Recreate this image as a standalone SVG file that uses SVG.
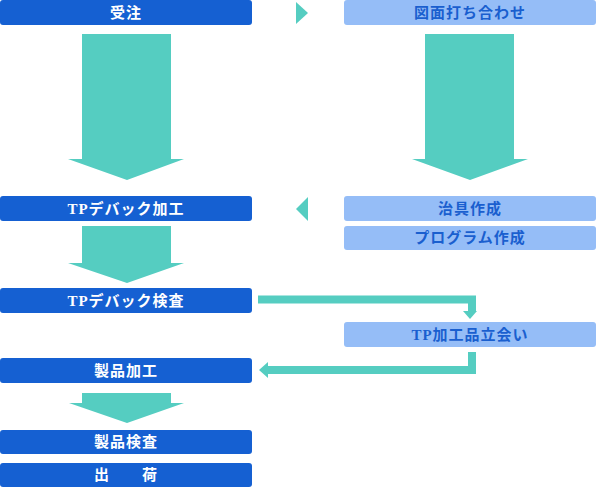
<svg xmlns="http://www.w3.org/2000/svg" width="596" height="487" viewBox="0 0 596 487">
<style>
.dk{fill:#1560d2}
.lt{fill:#95bdf7}
.ar{fill:#55cdc1}
.ln{fill:none;stroke:#55cdc1;stroke-width:8}
text{font-family:"Liberation Serif","Noto Sans CJK JP",serif;font-size:15px;font-weight:bold;letter-spacing:1px;text-anchor:middle;dominant-baseline:central}
.tw{fill:#ffffff}
.tb{fill:#1a5fcf}
</style>
<rect width="596" height="487" fill="#ffffff"/>
<g id="n-juchu"><rect class="dk" x="0" y="0" width="252" height="25" rx="3"/><text class="tw" x="126" y="12.5">受注</text></g>
<g id="n-zumen"><rect class="lt" x="344" y="0" width="252" height="25" rx="3"/><text class="tb" x="470" y="12.5">図面打ち合わせ</text></g>
<g id="n-tpkako"><rect class="dk" x="0" y="196" width="252" height="25" rx="3"/><text class="tw" x="126" y="208.5">TPデバック加工</text></g>
<g id="n-jigu"><rect class="lt" x="344" y="196" width="252" height="25" rx="3"/><text class="tb" x="470" y="208.5">治具作成</text></g>
<g id="n-program"><rect class="lt" x="344" y="226" width="252" height="24" rx="3"/><text class="tb" x="470" y="238">プログラム作成</text></g>
<g id="n-tpkensa"><rect class="dk" x="0" y="288" width="252" height="25" rx="3"/><text class="tw" x="126" y="300.5">TPデバック検査</text></g>
<g id="n-tachiai"><rect class="lt" x="344" y="322" width="252" height="25" rx="3"/><text class="tb" x="470" y="334.5">TP加工品立会い</text></g>
<g id="n-seihinkako"><rect class="dk" x="0" y="358" width="252" height="25" rx="3"/><text class="tw" x="126" y="370.5">製品加工</text></g>
<g id="n-seihinkensa"><rect class="dk" x="0" y="430" width="252" height="24" rx="3"/><text class="tw" x="126" y="442">製品検査</text></g>
<g id="n-shukka"><rect class="dk" x="0" y="463" width="252" height="24" rx="3"/><text class="tw" x="126" y="475" xml:space="preserve">出　　荷</text></g>
<g id="connectors">
<polygon class="ar" points="82,34 171,34 171,159 184,159 127,180 68,159 82,159"/>
<polygon class="ar" points="425,34 514,34 514,159 528,159 470,180 412,159 425,159"/>
<polygon class="ar" points="82,226 171,226 171,263 184,263 127,283 68,263 82,263"/>
<polygon class="ar" points="82,393 171,393 171,403 184,403 127,423 69,403 82,403"/>
<polygon class="ar" points="296,2 308,13 296,24"/>
<polygon class="ar" points="308,197 296,209 308,221"/>
<polyline class="ln" points="258,299.5 472,299.5 472,312"/>
<polygon class="ar" points="463,311 477,311 470,319"/>
<polyline class="ln" points="472,352 472,370 267,370"/>
<polygon class="ar" points="268,362 268,378 259,370"/>
</g>
</svg>
